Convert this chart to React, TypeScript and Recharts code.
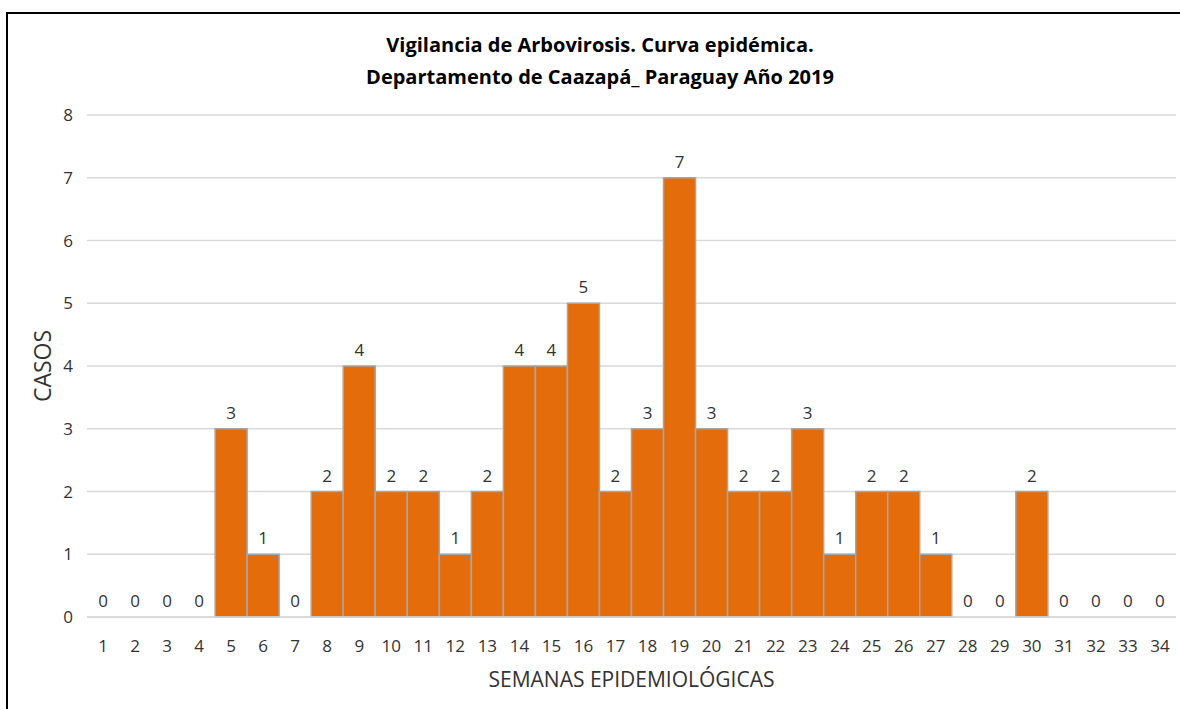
import React from 'react';
import { ComposedChart, Bar, Line, XAxis, YAxis, CartesianGrid, LabelList, Label } from 'recharts';

const weeks: string[] = ['1','2','3','4','5','6','7','8','9','10','11','12','13','14','15','16','17','18','19','20','21','22','23','24','25','26','27','28','29','30','31','32','33','34'];
const casos: number[] = [0,0,0,0,3,1,0,2,4,2,2,1,2,4,4,5,2,3,7,3,2,2,3,1,2,2,1,0,0,2,0,0,0,0];
const yTicks: number[] = [0,1,2,3,4,5,6,7,8];
const titleLines: string[] = ['Vigilancia de Arbovirosis. Curva epidémica.', 'Departamento de Caazapá_ Paraguay Año 2019'];
const xTitle = 'SEMANAS EPIDEMIOLÓGICAS';
const yTitle = 'CASOS';

const data = weeks.map((w, i) => ({ semana: w, casos: casos[i] }));

const FONT = '"Open Sans", sans-serif';
const TEXT = '#333333';

export default function App() {
  return (
    <div style={{ position: 'absolute', left: 0, top: 0, width: 1180, height: 709, background: '#fff', overflow: 'hidden', fontFamily: FONT }}>
      <div style={{ position: 'absolute', left: 6, top: 12, width: 1200, height: 720, borderLeft: '2px solid #000', borderTop: '2px solid #000' }} />
      {titleLines.map((t, i) => (
        <div key={i} style={{ position: 'absolute', left: 0, width: 1200, top: 31 + i * 32, textAlign: 'center', fontWeight: 700, fontSize: 20, lineHeight: '28px', color: '#000' }}>{t}</div>
      ))}
      <div style={{ position: 'absolute', left: 0, top: 0 }}>
        <ComposedChart width={1180} height={709} data={data} margin={{ top: 115, right: 4, bottom: 0, left: 0 }} barCategoryGap={0}>
          <CartesianGrid vertical={false} stroke="#D9D9D9" strokeWidth={1.5} />
          <XAxis dataKey="semana" height={92} tickLine={false} axisLine={{ stroke: '#D9D9D9', strokeWidth: 1.5 }} tick={{ fill: TEXT, fontSize: 17, fontFamily: FONT }} tickSize={0} tickMargin={23} interval={0}>
            <Label value={xTitle} position="insideBottom" offset={22} style={{ fill: TEXT, fontSize: 21, fontFamily: FONT }} />
          </XAxis>
          <YAxis width={87} domain={[0, 8]} ticks={yTicks} tickLine={false} axisLine={false} tick={{ fill: TEXT, fontSize: 17, fontFamily: FONT }} tickSize={0} tickMargin={14}
            label={{
              content: (props: any) => {
                const vb = props.viewBox || { x: 0, y: 0, height: 0 };
                const cx = 42;
                const cy = vb.y + vb.height / 2;
                return (
                  <text x={cx} y={cy} transform={`rotate(-90 ${cx} ${cy})`} textAnchor="middle" dominantBaseline="central" fill={TEXT} fontSize={23} fontFamily={FONT}>{yTitle}</text>
                );
              }
            }}
          />
          <Bar dataKey="casos" fill="#E46C0A" stroke="#A6A6A6" strokeWidth={1.5} isAnimationActive={false} />
          <Line dataKey="casos" stroke="none" dot={false} activeDot={false} legendType="none" isAnimationActive={false}>
            <LabelList dataKey="casos" position="top" offset={10} style={{ fill: TEXT, fontSize: 17, fontFamily: FONT }} />
          </Line>
        </ComposedChart>
      </div>
    </div>
  );
}
